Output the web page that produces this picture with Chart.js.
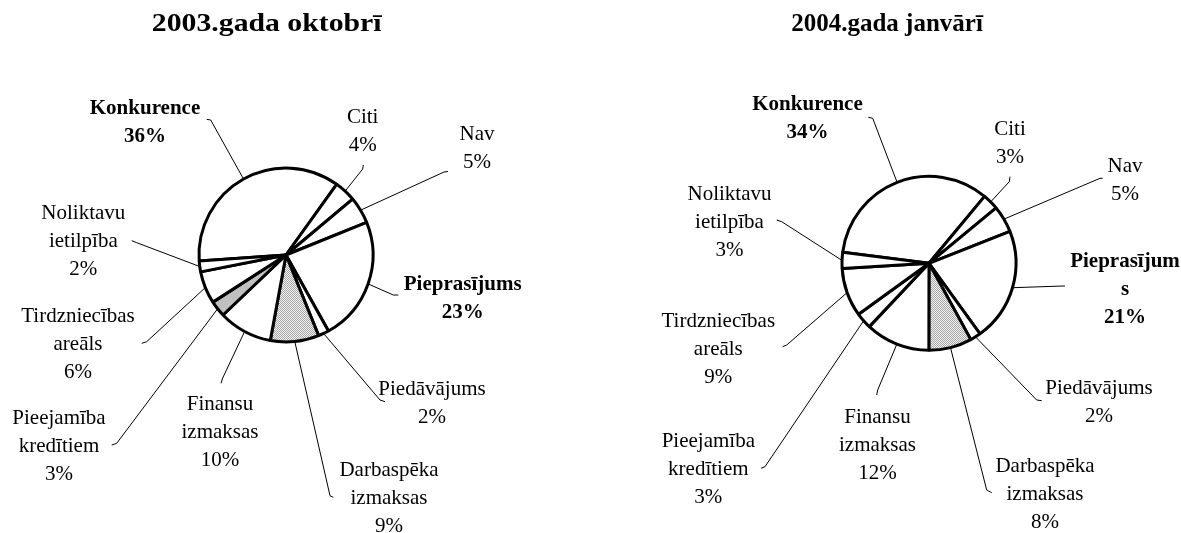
<!DOCTYPE html>
<html lang="lv">
<head>
<meta charset="utf-8">
<title>Biznesa ierobežojošie faktori</title>
<script src="https://cdn.jsdelivr.net/npm/chart.js@4/dist/chart.umd.min.js"></script>
<style>
  html, body { margin: 0; padding: 0; background: #fff; }
  #wrap { position: relative; width: 1181px; height: 533px; overflow: hidden; background: #fff; }
  canvas { position: absolute; top: 0; }
</style>
</head>
<body>
<div id="wrap">
  <canvas id="pieOct" width="590" height="533" style="left:0"></canvas>
  <canvas id="pieJan" width="591" height="533" style="left:590px"></canvas>
</div>
<script>
// Factors limiting business, share of answers (%)
const categories = [
  "Konkurence", "Citi", "Nav", "Pieprasījums", "Piedāvājums",
  "Darbaspēka izmaksas", "Finansu izmaksas", "Pieejamība kredītiem",
  "Tirdzniecības areāls", "Noliktavu ietilpība"
];
const share2003Oct = [36, 4, 5, 23, 2, 9, 10, 3, 6, 2];
const share2004Jan = [34, 3, 5, 21, 2, 8, 12, 3, 9, 3];
const chartTitles = ["2003.gada oktobrī", "2004.gada janvārī"];

const SERIF = '"Liberation Serif", "Times New Roman", serif';

// light stippled fill used for the labour-cost slice
function stipplePattern() {
  const p = document.createElement('canvas');
  p.width = 2; p.height = 2;
  const g = p.getContext('2d');
  g.fillStyle = '#f2f2f2'; g.fillRect(0, 0, 2, 2);
  g.fillStyle = '#a6a6a6'; g.fillRect(0, 0, 1, 1); g.fillRect(1, 1, 1, 1);
  return g.createPattern(p, 'repeat');
}

// Callout label layout, offsets from the pie centre:
// dx/dy = centre of the first text line, elbow/end = leader line path near the label
const calloutsOct = [
  { dx: -141,  dy: -148.3, elbow: [-75.3, -135],  end: [-79.3, -135.7], bold: true },
  { dx: 76.7,  dy: -139,   elbow: [76.7, -86],    end: [77.3, -90] },
  { dx: 191,   dy: -122,   elbow: [158, -83],     end: [162, -83.5] },
  { dx: 176.7, dy: 27.7,   elbow: [107.3, 40],    end: [112.3, 40], bold: true },
  { dx: 146,   dy: 133,    elbow: [94, 145],      end: [99, 146.7] },
  { dx: 103,   dy: 214,    elbow: [44, 240.7],    end: [47.3, 242.3] },
  { dx: -66,   dy: 148.3,  elbow: [-63.3, 123],   end: [-65, 128.3] },
  { dx: -227,  dy: 161.7,  elbow: [-169.3, 188.3], end: [-174.3, 190] },
  { dx: -208,  dy: 60,     elbow: [-139.3, 86.7], end: [-144.3, 88.3] },
  { dx: -202.7, dy: -42.7, elbow: [-149.3, -12.3], end: [-154.3, -14.3] }
];
const calloutsJan = [
  { dx: -121.5, dy: -160,  elbow: [-56.3, -145],  end: [-60.7, -146], bold: true },
  { dx: 81,    dy: -135,   elbow: [80.3, -81.6],  end: [81, -86.6] },
  { dx: 196,   dy: -98.3,  elbow: [171, -85],     end: [173.7, -85] },
  { dx: 196,   dy: -3.3,   elbow: [134, 22.7],    end: [136, 22.7], bold: true, split: 11 },
  { dx: 170,   dy: 123.4,  elbow: [107.7, 136.7], end: [112.7, 137.4] },
  { dx: 116,   dy: 201.7,  elbow: [57.7, 226.7],  end: [62.7, 229.4] },
  { dx: -51.5, dy: 152.7,  elbow: [-51.3, 126.7], end: [-52.3, 131.7] },
  { dx: -220.7, dy: 176.7, elbow: [-164, 203.4],  end: [-168, 205] },
  { dx: -210.7, dy: 56.7,  elbow: [-142.3, 81.7], end: [-146.3, 83.4] },
  { dx: -199.5, dy: -70,   elbow: [-147.3, -41.6], end: [-152.3, -43.3] }
];

function makeCallouts(layout, title) {
  return {
    id: 'callouts',
    afterDatasetsDraw(chart) {
      const ctx = chart.ctx;
      const meta = chart.getDatasetMeta(0);
      const values = chart.data.datasets[0].data;
      const cx = meta.data[0].x, cy = meta.data[0].y;
      ctx.save();
      meta.data.forEach((arc, i) => {
        const L = layout[i];
        const p = arc.getProps(['startAngle', 'endAngle', 'outerRadius'], true);
        const mid = (p.startAngle + p.endAngle) / 2;
        const rx = cx + Math.cos(mid) * p.outerRadius;
        const ry = cy + Math.sin(mid) * p.outerRadius;
        ctx.strokeStyle = '#000';
        ctx.lineWidth = 1;
        ctx.beginPath();
        ctx.moveTo(rx, ry);
        ctx.lineTo(cx + L.elbow[0], cy + L.elbow[1]);
        ctx.lineTo(cx + L.end[0], cy + L.end[1]);
        ctx.stroke();

        const name = chart.data.labels[i];
        const lines = L.split ? [name.slice(0, L.split), name.slice(L.split)] : name.split(' ');
        lines.push(values[i] + '%');
        ctx.font = (L.bold ? 'bold ' : '') + '21px ' + SERIF;
        ctx.fillStyle = '#000';
        ctx.textAlign = 'center';
        ctx.textBaseline = 'alphabetic';
        lines.forEach((t, k) => ctx.fillText(t, cx + L.dx, cy + L.dy + k * 28 + 7));
      });
      // chart heading
      ctx.font = 'bold 25px ' + SERIF;
      ctx.textAlign = 'center';
      ctx.textBaseline = 'alphabetic';
      ctx.fillStyle = '#000';
      ctx.translate(cx + title.dx, title.y);
      ctx.scale(title.stretch, 1);
      ctx.fillText(title.text, 0, 0);
      ctx.restore();
    }
  };
}

function drawPie(canvasId, values, fills, rotation, centre, layout, title) {
  const cv = document.getElementById(canvasId);
  const W = cv.width, H = cv.height, box = 100;
  return new Chart(cv, {
    type: 'pie',
    data: {
      labels: categories,
      datasets: [{
        data: values,
        backgroundColor: fills,
        borderColor: '#000',
        borderWidth: 3,
        hoverBorderWidth: 3
      }]
    },
    options: {
      responsive: false,
      animation: false,
      events: [],
      rotation: rotation,
      radius: 87,
      layout: {
        padding: {
          left: centre[0] - box,
          right: W - centre[0] - box,
          top: centre[1] - box,
          bottom: H - centre[1] - box
        }
      },
      plugins: {
        legend: { display: false },
        tooltip: { enabled: false },
        title: { display: false }
      }
    },
    plugins: [makeCallouts(layout, title)]
  });
}

const dots = stipplePattern();
const fillsOct = ['#fff', '#fff', '#fff', '#fff', '#fff', dots, '#fff', '#c0c0c0', '#fff', '#fff'];
const fillsJan = ['#fff', '#fff', '#fff', '#fff', '#fff', dots, '#fff', '#fff', '#fff', '#fff'];

drawPie('pieOct', share2003Oct, fillsOct, 266, [286, 255], calloutsOct,
  { text: chartTitles[0], dx: -19.3, y: 31, stretch: 1.19 });
drawPie('pieJan', share2004Jan, fillsJan, 277.3, [339, 263.3], calloutsJan,
  { text: chartTitles[1], dx: -42, y: 31, stretch: 1.0 });
</script>
</body>
</html>
